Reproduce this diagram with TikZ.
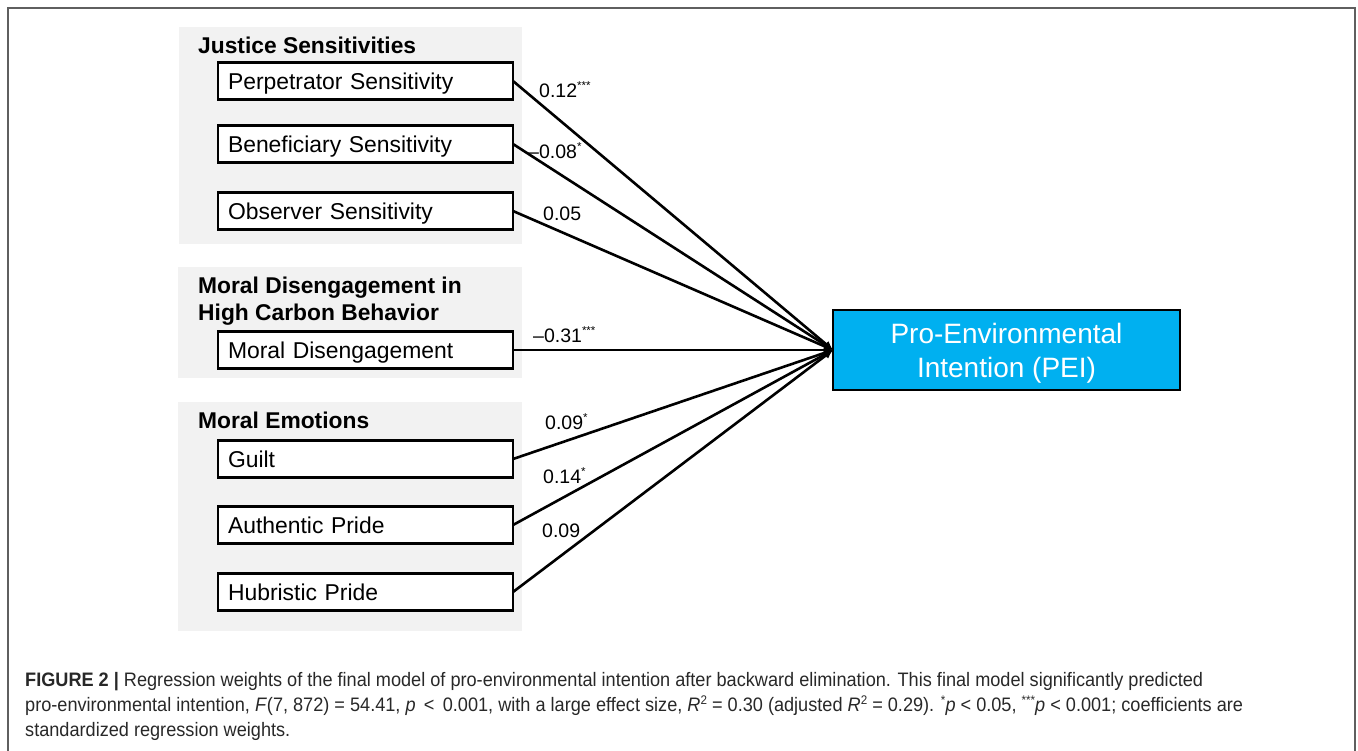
\documentclass[tikz,border=0pt]{standalone}
\usepackage{fontspec}
\setmainfont{Liberation Sans}
\newfontfamily\capfont[FakeStretch=0.93]{Liberation Sans}
\usetikzlibrary{arrows.meta}
\definecolor{grpgray}{RGB}{242,242,242}
\definecolor{peiblue}{RGB}{0,176,240}
\definecolor{framegray}{RGB}{95,95,95}
\definecolor{capgray}{RGB}{40,40,40}
\newcommand{\mysup}[1]{\raisebox{8pt}{\fontsize{11.5}{11.5}\selectfont #1}}
\newcommand{\capsup}[1]{\raisebox{7pt}{\fontsize{12.5}{12.5}\selectfont #1}}
\begin{document}
\begin{tikzpicture}[x=1pt,y=-1pt,
  grp/.style={fill=grpgray, draw=none, anchor=north west, inner sep=0pt, outer sep=0pt},
  grptitle/.style={anchor=base west, inner sep=0pt, font=\fontsize{22.8}{27}\selectfont\bfseries},
  var/.style={draw=black, line width=2.4pt, fill=white, anchor=west, outer sep=0pt,
    minimum width=295pt, minimum height=37pt, inner xsep=10pt, inner ysep=0pt,
    text width=275pt, align=left, font=\fontsize{22.9}{26}\selectfont,
    text height=17pt, text depth=0pt},
  pei/.style={draw=black, line width=2.4pt, fill=peiblue, text=white, outer sep=0pt,
    minimum width=347pt, minimum height=80pt, inner sep=0pt, align=center,
    font=\fontsize{28}{34}\selectfont, text depth=0pt},
  coef/.style={anchor=base west, inner sep=0pt, font=\fontsize{19.5}{22}\selectfont},
  arr/.style={line width=2.6pt, -{Latex[length=9pt,width=8pt]}},
  captext/.style={anchor=base west, inner sep=0pt, text=capgray, font=\capfont\fontsize{19.5}{22}\selectfont}
]
\useasboundingbox (0,0) rectangle (1358,750);
% frame
\draw[framegray, line width=1.6pt] (8,760) -- (8,8) -- (1355,8) -- (1355,760);

% groups
\node[grp, minimum width=343pt, minimum height=217pt] (g1) at (179,27) {};
\node[grp, minimum width=344pt, minimum height=111pt] (g2) at (178,267) {};
\node[grp, minimum width=344pt, minimum height=229pt] (g3) at (178,402) {};

\node[grptitle] (t1) at (198,53) {Justice Sensitivities};
\node[grptitle] (t2a) at (198,293) {Moral Disengagement in};
\node[grptitle] (t2b) at (198,320) {High Carbon Behavior};
\node[grptitle] (t3) at (198,428) {Moral Emotions};

% variables
\node[var] (perp) at (218,81) {Perpetrator Sensitivity};
\node[var] (benef) at (218,144) {Beneficiary Sensitivity};
\node[var] (obs) at (218,211) {Observer Sensitivity};
\node[var] (md) at (218,350) {Moral Disengagement};
\node[var] (guilt) at (218,459) {Guilt};
\node[var] (auth) at (218,525) {Authentic Pride};
\node[var] (hub) at (218,592) {Hubristic Pride};

\node[pei] (peibox) at (1006.5,350) {Pro-Environmental\\Intention (PEI)};

% arrows
\foreach \s in {perp,benef,obs,md,guilt,auth,hub}
  \draw[arr] (\s.east) -- (peibox.west);

% coefficients
\node[coef] (c1) at (539,97) {0.12\mysup{***}};
\node[coef] (c2) at (528,158) {–0.08\mysup{*}};
\node[coef] (c3) at (543,220) {0.05};
\node[coef] (c4) at (533,342) {–0.31\mysup{***}};
\node[coef] (c5) at (545,429) {0.09\mysup{*}};
\node[coef] (c6) at (543,483) {0.14\mysup{*}};
\node[coef] (c7) at (542,537) {0.09};

% caption
\node[captext] (cap1) at (25,686) {\textbf{FIGURE 2 |} Regression weights of the final model of pro-environmental intention after backward elimination. This final model significantly predicted};
\node[captext] (cap2) at (25,711) {pro-environmental intention, \textit{F}(7, 872) = 54.41, \textit{p} \,<\, 0.001, with a large effect size, \textit{R}\capsup{2} = 0.30 (adjusted \textit{R}\capsup{2} = 0.29). \capsup{*}\textit{p} < 0.05, \capsup{***}\textit{p} < 0.001; coefficients are};
\node[captext] (cap3) at (25,736) {standardized regression weights.};
\end{tikzpicture}
\end{document}
